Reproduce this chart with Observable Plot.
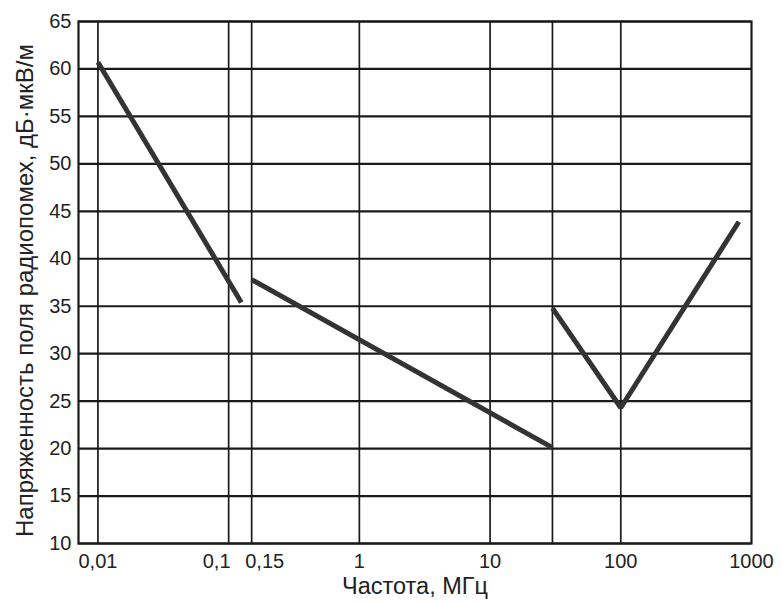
<!DOCTYPE html>
<html>
<head>
<meta charset="utf-8">
<script src="https://cdn.jsdelivr.net/npm/d3@7"></script>
<script src="https://cdn.jsdelivr.net/npm/@observablehq/plot@0.6"></script>
<style>
  html, body { margin: 0; padding: 0; background: #fff; }
  #chart { width: 781px; height: 604px; }
</style>
</head>
<body>
<div id="chart"></div>
<script>
// Segment 1: 0.01 – ~0.125 MHz
const seg1Freq = [0.01, 0.125];
const seg1Level = [60.7, 35.4];
// Segment 2: 0.15 – 30 MHz
const seg2Freq = [0.15, 30];
const seg2Level = [37.8, 20.1];
// Segment 3: 30 – ~800 MHz
const seg3Freq = [30, 100, 800];
const seg3Level = [34.8, 24.3, 43.9];

const xTicks = [0.01, 0.1, 0.15, 1, 10, 30, 100, 1000];
const xTickLabels = ["0,01", "0,1", "0,15", "1", "10", "30", "100", "1000"];
const yTicks = [10, 15, 20, 25, 30, 35, 40, 45, 50, 55, 60, 65];

const xLabel = "Частота, МГц";
const yLabel = "Напряженность поля радиопомех, дБ·мкВ/м";

const toRows = (fs, ls, seg) => fs.map((f, i) => ({f, v: ls[i], seg}));
const data = [
  ...toRows(seg1Freq, seg1Level, "a"),
  ...toRows(seg2Freq, seg2Level, "b"),
  ...toRows(seg3Freq, seg3Level, "c")
];

const fmt = new Map(xTicks.map((t, i) => [t, xTickLabels[i]]));
const mainTicks = xTicks.filter(t => t !== 0.1 && t !== 0.15);

const chart = Plot.plot({
  width: 781,
  height: 604,
  marginLeft: 78,
  marginRight: 30,
  marginTop: 21,
  marginBottom: 61,
  style: {fontFamily: "'Liberation Sans', Arial, sans-serif", fontSize: "20px", color: "#222", background: "#fff"},
  x: {type: "log", domain: [0.0071, 1000]},
  y: {domain: [10, 65]},
  marks: [
    Plot.ruleY(yTicks, {stroke: "#1a1a1a", strokeWidth: 2.2}),
    Plot.ruleX(xTicks.filter(t => t !== 1000), {stroke: "#1a1a1a", strokeWidth: 1.7}),
    Plot.frame({stroke: "#1a1a1a", strokeWidth: 2.2}),
    Plot.axisY(yTicks, {tickSize: 0, tickPadding: 7, fontSize: 20, label: null}),
    Plot.text([yLabel], {frameAnchor: "left", textAnchor: "middle", dx: -53, dy: 8, rotate: -90, text: d => d, fontSize: 24, fill: "#222"}),
    Plot.axisX(mainTicks, {tickSize: 0, tickPadding: 10, fontSize: 20, tickFormat: d => fmt.get(d), label: null}),
    Plot.axisX([0.1], {tickSize: 0, tickPadding: 10, fontSize: 20, tickFormat: d => fmt.get(d), label: null, dx: -12}),
    Plot.axisX([0.15], {tickSize: 0, tickPadding: 10, fontSize: 20, tickFormat: d => fmt.get(d), label: null, dx: 13}),
    Plot.text([xLabel], {frameAnchor: "bottom", dy: 50, text: d => d, fontSize: 23.5, fill: "#222"}),
    Plot.line(data, {x: "f", y: "v", z: "seg", stroke: "#333", strokeWidth: 5, strokeLinejoin: "miter", strokeLinecap: "butt"})
  ]
});
document.getElementById("chart").appendChild(chart);
</script>
</body>
</html>
